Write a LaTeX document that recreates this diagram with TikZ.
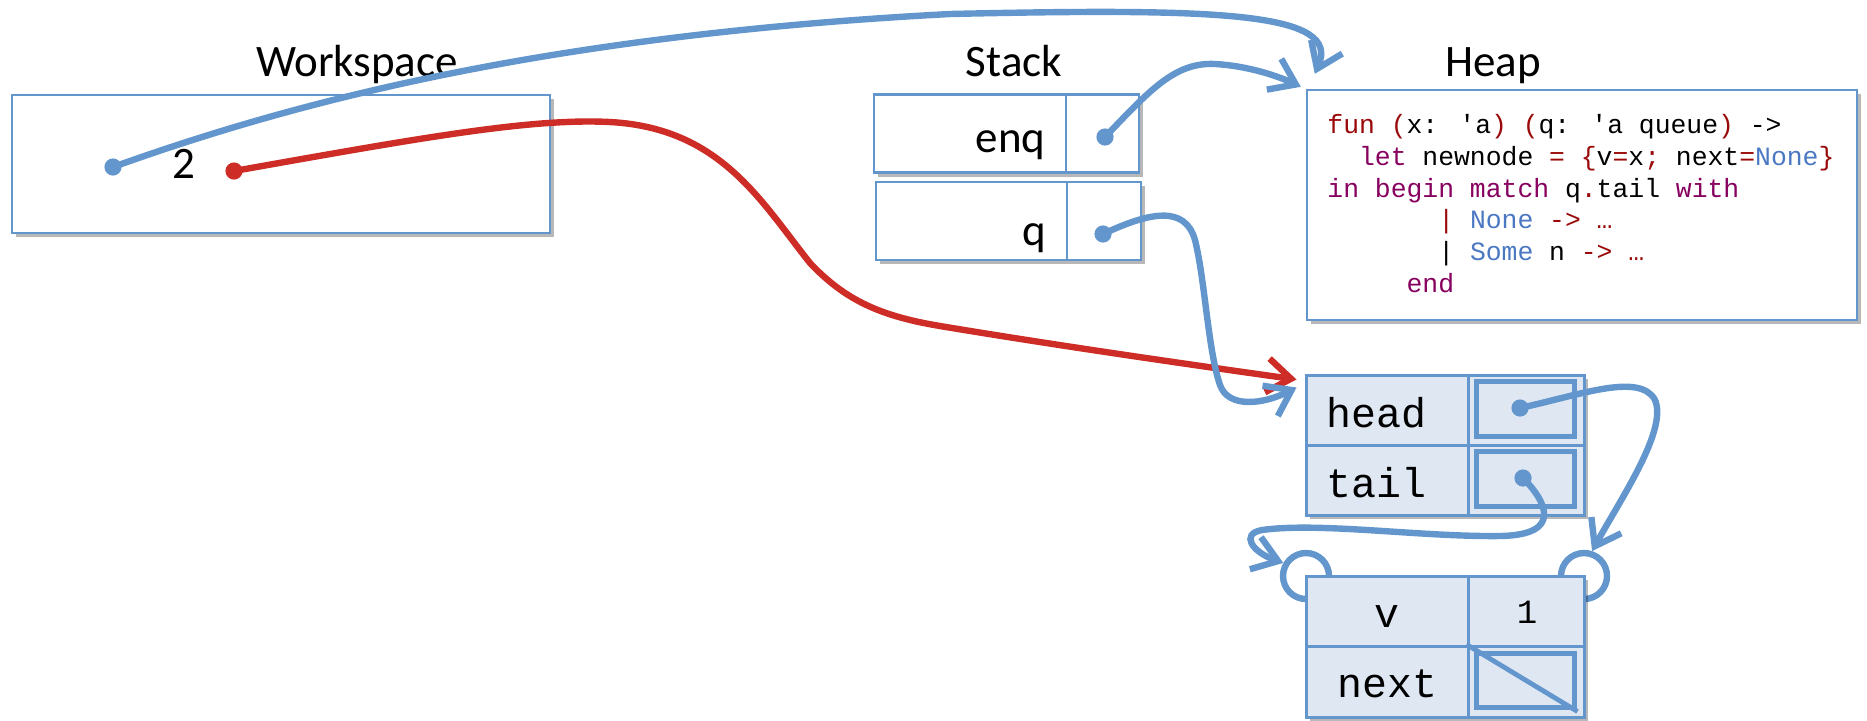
\documentclass[tikz,border=0pt]{standalone}
\usepackage{fontspec}
\setmainfont{Carlito}
\newfontfamily\codefont{Liberation Mono}
\usetikzlibrary{arrows.meta,shadows}
\definecolor{lblue}{RGB}{98,150,205}
\definecolor{cellfill}{RGB}{222,231,242}
\definecolor{wred}{RGB}{205,45,38}
\definecolor{kwp}{RGB}{135,0,95}
\definecolor{kwr}{RGB}{155,10,10}
\definecolor{cblue}{RGB}{75,120,195}
\newcommand\Kred[1]{\textcolor{kwr}{#1}}
\newcommand\Kpur[1]{\textcolor{kwp}{#1}}
\newcommand\Kblu[1]{\textcolor{cblue}{#1}}
\tikzset{
  shad/.style={drop shadow={shadow xshift=2pt,shadow yshift=-2pt,opacity=0.28,fill=black}},
  wbox/.style={draw=lblue,line width=1.2pt,fill=white,inner sep=0pt,shad},
  rcell/.style={draw=lblue,line width=1.5pt,fill=cellfill,inner sep=0pt,shad},
  title/.style={font=\fontsize{22.5}{27}\selectfont,inner sep=0pt},
  slabel/.style={font=\fontsize{22.5}{27}\selectfont,inner sep=0pt},
  code/.style={font=\codefont\fontsize{13.2}{16}\selectfont,inner sep=0pt,anchor=base west},
  rtext/.style={font=\codefont\fontsize{20.8}{24}\selectfont,inner sep=0pt},
  ptr/.style={line width=3.2pt,draw=lblue},
  wire/.style={line width=3.2pt,draw=#1,-{Straight Barb[length=12pt,width=17pt]}},
  loopc/.style={circle,draw=lblue,line width=3.2pt,inner sep=0pt,minimum size=23pt}
}
\begin{document}
\begin{tikzpicture}[x=0.5pt,y=-0.5pt]
\useasboundingbox (0,0) rectangle (1867,720);

% titles
\node[title,anchor=base] (tws) at (357,76) {Workspace};
\node[title,anchor=base] (tst) at (1014,76) {Stack};
\node[title,anchor=base] (thp) at (1493,76) {Heap};

% workspace
\node[wbox,minimum width=269pt,minimum height=69pt] (ws) at (281,164) {};
\node[slabel,anchor=base] (two) at (184,178) {2};

% stack
\node[wbox,minimum width=96pt,minimum height=39pt] (enqn) at (970,133.5) {};
\node[wbox,minimum width=36.5pt,minimum height=39pt] (enqp) at (1102.5,133.5) {};
\node[wbox,minimum width=95.5pt,minimum height=39pt] (qn) at (971.5,221) {};
\node[wbox,minimum width=37pt,minimum height=39pt] (qp) at (1104,221) {};
\node[slabel,anchor=base east] (enqt) at (1046,152) {enq};
\node[slabel,anchor=base east] (qt) at (1047,245) {q};

% heap code box
\node[wbox,minimum width=275pt,minimum height=115pt] (heap) at (1582,205) {};
\node[code] (c1) at (1327,133) {\Kred{fun (}x: 'a\Kred{) (}q: 'a queue\Kred{)} ->};
\node[code] (c2) at (1327,165) {\hphantom{xx}\Kpur{let} newnode \Kred{= \{}v\Kred{=}x\Kred{;} next\Kred{=}\Kblu{None}\Kred{\}}};
\node[code] (c3) at (1327,197) {\Kpur{in begin match} q\Kred{.}tail \Kpur{with}};
\node[code] (c4) at (1327,228) {\hphantom{xxxxxxx}\Kred{|} \Kblu{None} \Kred{-> …}};
\node[code] (c5) at (1327,260) {\hphantom{xxxxxxx}| \Kblu{Some} n \Kred{-> …}};
\node[code] (c6) at (1327,292) {\hphantom{xxxxx}\Kpur{end}};

% queue record
\node[rcell,minimum width=81pt,minimum height=35pt] (hn) at (1387,410) {};
\node[rcell,minimum width=58pt,minimum height=35pt] (hp) at (1526,410) {};
\node[rcell,minimum width=81pt,minimum height=35pt] (tn) at (1387,480) {};
\node[rcell,minimum width=58pt,minimum height=35pt] (tp) at (1526,480) {};
\draw[ptr,line width=2.4pt] ([shift={(10,8)}]hp.north west) rectangle ([shift={(-11,-10)}]hp.south east);
\draw[ptr,line width=2.4pt] ([shift={(10,8)}]tp.north west) rectangle ([shift={(-11,-10)}]tp.south east);
\node[rtext,anchor=base west] (ht) at (1326,427) {head};
\node[rtext,anchor=base west] (tt) at (1326,497) {tail};

% node record with loops
\node[loopc] (lcirc) at (1306,576) {};
\node[loopc] (rcirc) at (1584,576) {};
\node[rcell,minimum width=81pt,minimum height=35pt] (vn) at (1387,611) {};
\node[rcell,minimum width=58pt,minimum height=35pt] (vp) at (1526,611) {};
\node[rcell,minimum width=81pt,minimum height=35.5pt] (nn) at (1387,681.5) {};
\node[rcell,minimum width=58pt,minimum height=35.5pt] (np) at (1526,681.5) {};
\draw[ptr,line width=2.4pt] ([shift={(10,9)}]np.north west) rectangle ([shift={(-11,-11)}]np.south east);
\draw[ptr,line width=2.4pt] (np.north west) -- ([shift={(-8,-7)}]np.south east);
\node[rtext,anchor=base] (vt) at (1387,627) {v};
\node[rtext,anchor=base] (nt) at (1387.5,697) {next};
\node[font=\codefont\fontsize{17}{20}\selectfont,inner sep=0pt,anchor=base] (one) at (1527,623) {1};

% dots and endpoints
\coordinate (wsb) at (113,167);
\coordinate (wsr) at (234,171);
\coordinate (enqd) at (1105,137);
\coordinate (qd) at (1103,234);
\coordinate (hd) at (1520,408);
\coordinate (td) at (1523,478);
\coordinate (heaptipA) at ([shift={(9,-15)}]heap.north west);
\coordinate (heaptipB) at ([shift={(-5,-2)}]heap.north west);
\coordinate (rectipA) at ([shift={(-8,6)}]hn.north west);
\coordinate (rectipB) at ([shift={(-8,14)}]hn.north west);

% connectors
\draw[wire=lblue] (wsb) .. controls (300,100) and (550,35) .. (950,14) .. controls (1220,8) and (1342,12) .. (heaptipA);
\draw[wire=wred] (wsr) .. controls (420,138) and (530,118) .. (610,122) .. controls (720,128) and (760,200) .. (810,263) .. controls (845,300) and (880,316) .. (940,326) .. controls (1060,346) and (1200,366) .. (rectipA);
\draw[wire=lblue] (enqd) .. controls (1150,90) and (1175,62) .. (1215,64) .. controls (1250,66) and (1280,77) .. (heaptipB);
\draw[wire=lblue] (qd) .. controls (1150,212) and (1185,205) .. (1195,240) .. controls (1205,280) and (1208,350) .. (1220,385) .. controls (1228,408) and (1262,405) .. (rectipB);
\draw[wire=lblue] (hd) .. controls (1580,395) and (1640,372) .. (1655,400) .. controls (1668,430) and (1620,500) .. (rcirc.72);
\draw[wire=lblue] (td) .. controls (1545,500) and (1565,535) .. (1500,536) .. controls (1420,537) and (1320,522) .. (1262,530) .. controls (1240,534) and (1252,552) .. (lcirc.150);

\fill[lblue] (wsb) circle (4.3pt);
\fill[wred] (wsr) circle (4.3pt);
\fill[lblue] (enqd) circle (4.3pt);
\fill[lblue] (qd) circle (4.3pt);
\fill[lblue] (hd) circle (4.3pt);
\fill[lblue] (td) circle (4.3pt);
\end{tikzpicture}
\end{document}
